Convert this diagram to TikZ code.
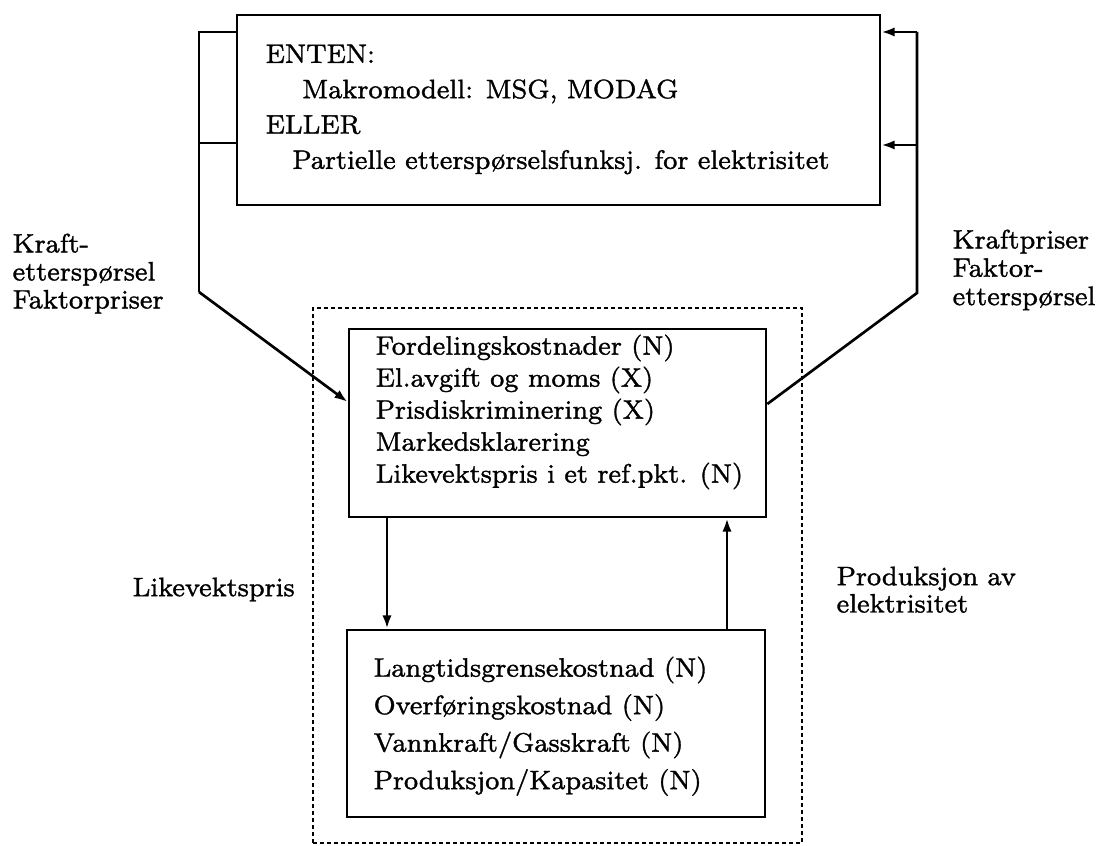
\documentclass[tikz,border=0pt]{standalone}
\usepackage{fontspec}
\usepackage{tikz}
\usetikzlibrary{arrows.meta,fit}

\newfontfamily\tykk{Latin Modern Roman}[FakeBold=1.2]

\tikzset{
  boks/.style={draw, line width=0.8pt, inner sep=0pt},
  ramme/.style={draw, line width=0.75pt, dash pattern=on 1.2pt off 0.9pt, inner sep=0pt},
  tekst/.style={inner sep=0pt, anchor=north west, align=left, font=\tykk\fontsize{8}{#1}\selectfont},
  linje/.style={line width=0.8pt},
  pil/.style={line width=0.8pt, -{Latex[length=4pt,width=2.8pt]}}
}

\begin{document}
\begin{tikzpicture}[x=0.3pt,y=-0.3pt]
\useasboundingbox (0,0) rectangle (1102,846);
% boxes:
\node[ramme, fit={(313,308) (802,843)}] (omraade) {};
\node[boks, fit={(237,15) (880,205)}] (modell) {};
\node[boks, fit={(349,329) (766,517)}] (marked) {};
\node[boks, fit={(347,630) (765,817)}] (tilbud) {};
% texts in the boxes:
\node[tekst=10.6pt] (modelltxt) at (265,44) {ENTEN:\\
  \hspace*{11pt}Makromodell: MSG, MODAG\\
  ELLER\\
  \hspace*{8pt}Partielle ettersp\o rselsfunksj. for elektrisitet};
\node[tekst=9.6pt] (markedtxt) at (375,334) {Fordelingskostnader (N)\\
  El.avgift og moms (X)\\
  Prisdiskriminering (X)\\
  Markedsklarering\\
  Likevektspris i et ref.pkt. (N)};
\node[tekst=11.25pt] (tilbudtxt) at (373,656) {Langtidsgrensekostnad (N)\\
  Overf\o ringskostnad (N)\\
  Vannkraft/Gasskraft (N)\\
  Produksjon/Kapasitet (N)};
% labels:
\node[tekst=8.4pt] (venstre) at (12,233) {Kraft-\\ettersp\o rsel\\Faktorpriser};
\node[tekst=8.5pt] (hoyre) at (952,229) {Kraftpriser\\Faktor-\\ettersp\o rsel};
\node[tekst=8.4pt] (pris) at (132,577) {Likevektspris};
\node[tekst=8.2pt] (prod) at (836,566) {Produksjon av\\elektrisitet};
% connectors:
\coordinate (vo) at (199,32);
\coordinate (vm) at (199,143);
\coordinate (vn) at (199,292);
\coordinate (ho) at (917,32);
\coordinate (hm) at (917,145);
\coordinate (hn) at (917,293);
\coordinate (ned) at (387,0);
\coordinate (opp) at (727,0);
\draw[linje] (modell.west |- vo) -- (vo) -- (vn);
\draw[linje] (modell.west |- vm) -- (vm);
\draw[pil] (vn) -- ([yshift=6.3pt]marked.west);
\draw[linje] ([yshift=5.7pt]marked.east) -- (hn) -- (ho);
\draw[pil] (ho) -- (modell.east |- ho);
\draw[pil] (hm) -- (modell.east |- hm);
\draw[pil] (marked.south -| ned) -- (tilbud.north -| ned);
\draw[pil] (tilbud.north -| opp) -- (marked.south -| opp);
\end{tikzpicture}
\end{document}
